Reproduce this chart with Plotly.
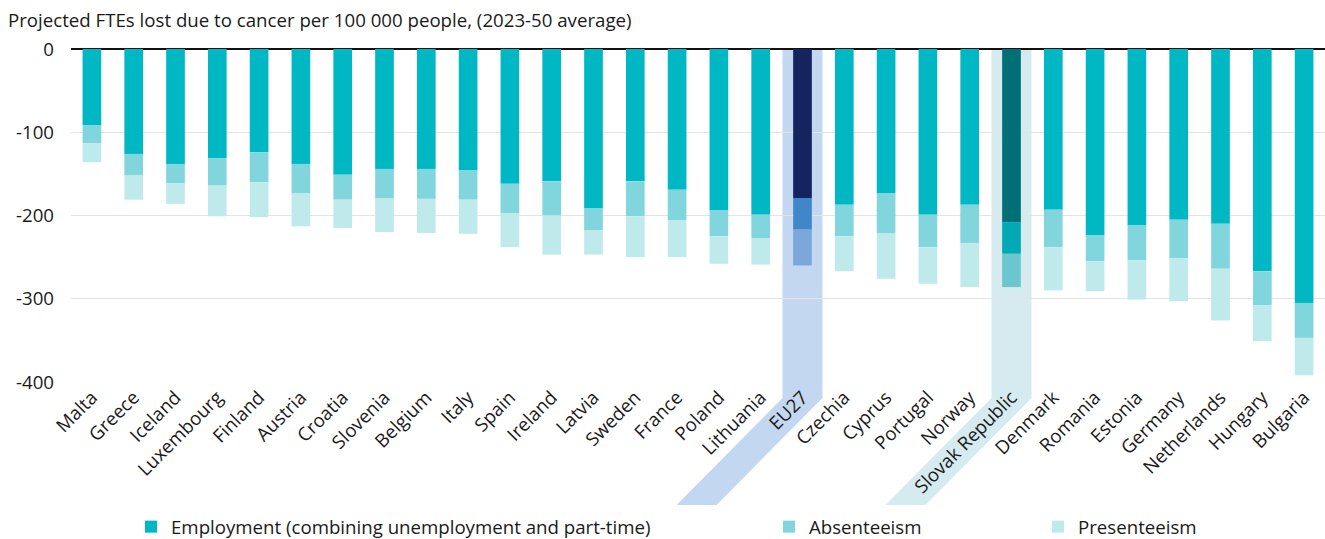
import plotly.graph_objects as go

countries = ["Malta", "Greece", "Iceland", "Luxembourg", "Finland", "Austria", "Croatia",
             "Slovenia", "Belgium", "Italy", "Spain", "Ireland", "Latvia", "Sweden", "France",
             "Poland", "Lithuania", "EU27", "Czechia", "Cyprus", "Portugal", "Norway",
             "Slovak Republic", "Denmark", "Romania", "Estonia", "Germany", "Netherlands",
             "Hungary", "Bulgaria"]

employment = [-92, -126, -138, -131, -124, -138, -151, -144, -144, -146, -162, -159, -191,
              -159, -169, -194, -199, -179, -187, -173, -199, -187, -208, -193, -224, -212,
              -205, -210, -267, -305]
absenteeism = [-21, -26, -23, -33, -36, -35, -30, -35, -36, -35, -35, -41, -27, -42, -37,
               -31, -28, -38, -38, -48, -39, -46, -38, -45, -31, -42, -46, -54, -41, -42]
presenteeism = [-23, -29, -25, -37, -42, -40, -34, -41, -41, -41, -41, -47, -29, -49, -44,
                -33, -32, -43, -42, -55, -44, -53, -40, -52, -36, -47, -52, -62, -43, -45]

y_tickvals = [0, -100, -200, -300, -400]
y_ticktext = ["0", "-100", "-200", "-300", "-400"]

series_names = ["Employment (combining unemployment and part-time)", "Absenteeism", "Presenteeism"]
base_colors = ["#00B8C4", "#80D6DC", "#BFEAEC"]
eu_colors = ["#15235F", "#3F87C9", "#7BA7DA"]
sk_colors = ["#006F76", "#00A9B3", "#6AC7CF"]

FONT = "Open Sans"
FS = 18.67
TXT = "#1a1a1a"
W, H = 1325, 539
ML, MR, MT, MB = 71, 0, 49, 157
PW, PH = W - ML - MR, H - MT - MB


def px_to_paper(px, py):
    return (px - ML) / PW, (H - MB - py) / PH


fig = go.Figure()
legends = ["legend", "legend2", "legend3"]
for i, (name, vals) in enumerate(zip(series_names, [employment, absenteeism, presenteeism])):
    colors = []
    for c in countries:
        if c == "EU27":
            colors.append(eu_colors[i])
        elif c == "Slovak Republic":
            colors.append(sk_colors[i])
        else:
            colors.append(base_colors[i])
    fig.add_trace(go.Bar(
        x=countries, y=vals, name=name,
        marker=dict(color=colors, line=dict(width=0)),
        legend=legends[i], showlegend=True,
    ))


def band(cat_px_left, cat_px_right, color):
    # vertical part then 45-degree diagonal through the labels
    pts = [(cat_px_left, 49.5), (cat_px_right, 49.5), (cat_px_right, 398),
           (cat_px_right - 106, 505), (cat_px_left - 106, 505), (cat_px_left, 398)]
    path = ""
    for k, (px, py) in enumerate(pts):
        x, y = px_to_paper(px, py)
        path += ("M" if k == 0 else "L") + f"{x:.5f},{y:.5f}"
    path += "Z"
    return dict(type="path", path=path, xref="paper", yref="paper",
                fillcolor=color, line=dict(width=0), layer="below")


cat_w = PW / len(countries)
eu_c = ML + cat_w * (countries.index("EU27") + 0.5)
sk_c = ML + cat_w * (countries.index("Slovak Republic") + 0.5)
shapes = [band(eu_c - 20, eu_c + 20, "#C4D7F0"), band(sk_c - 20, sk_c + 20, "#D5EBEF")]

leg_common = dict(orientation="h", yanchor="middle", xanchor="left",
                  font=dict(family=FONT, size=FS, color=TXT),
                  bgcolor="rgba(0,0,0,0)", itemclick=False, itemwidth=30,
                  maxheight=200, borderwidth=0, visible=True)
ly = px_to_paper(0, 527)[1]

fig.update_layout(
    width=W, height=H,
    showlegend=True,
    margin=dict(l=ML, r=MR, t=MT, b=MB, autoexpand=False),
    paper_bgcolor="white", plot_bgcolor="white",
    barmode="relative", bargap=0.553,
    font=dict(family=FONT, size=FS, color=TXT),
    title=dict(text="Projected FTEs lost due to cancer per 100 000 people, (2023-50 average)",
               x=8 / W, xanchor="left", y=1 - 20 / H, yanchor="middle",
               font=dict(family=FONT, size=FS, color=TXT)),
    shapes=shapes,
    legend=dict(x=px_to_paper(131, 0)[0], y=ly, **leg_common),
    legend2=dict(x=px_to_paper(769, 0)[0], y=ly, **leg_common),
    legend3=dict(x=px_to_paper(1038, 0)[0], y=ly, **leg_common),
    xaxis=dict(tickangle=-45, tickfont=dict(family=FONT, size=FS, color=TXT),
               showgrid=False, showline=False, ticks="", automargin=False),
    yaxis=dict(range=[-400, 0], tickvals=y_tickvals, ticktext=y_ticktext,
               tickfont=dict(family=FONT, size=FS, color=TXT),
               showgrid=True, gridcolor="#E4E4E4", gridwidth=1,
               zeroline=True, zerolinecolor="#111111", zerolinewidth=1.5,
               ticklabelstandoff=16, automargin=False),
)

fig.write_html("out.html")
